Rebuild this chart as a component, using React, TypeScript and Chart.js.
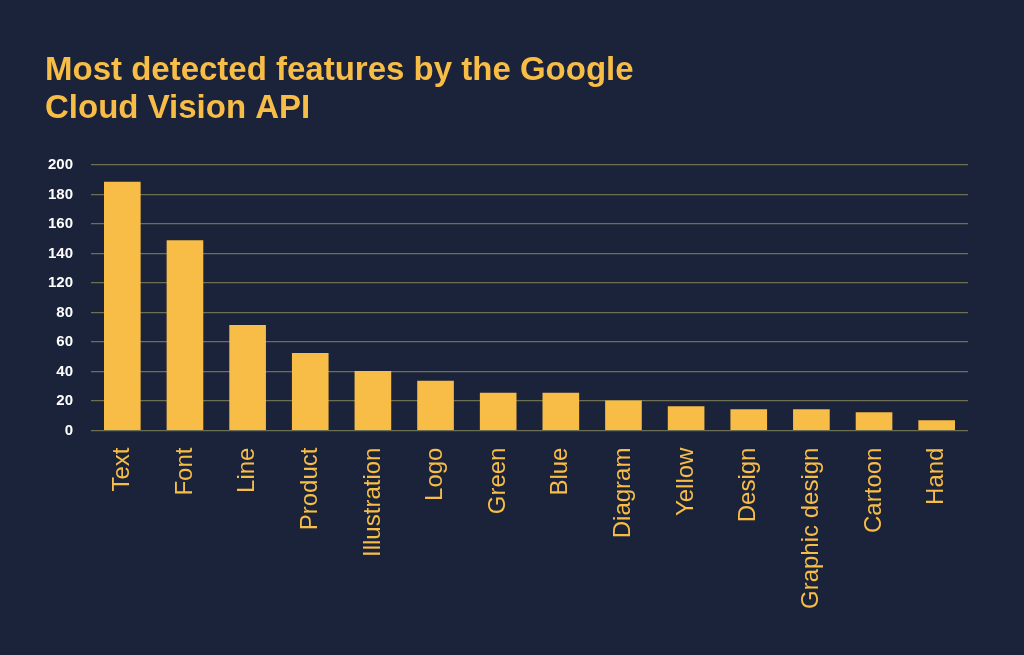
import { useEffect, useRef } from "react";
import { Chart, registerables } from "chart.js";

Chart.register(...registerables);

const features = [
    "Text", "Font", "Line", "Product", "Illustration", "Logo", "Green",
    "Blue", "Diagram", "Yellow", "Design", "Graphic design", "Cartoon", "Hand",
];
// bar heights read against the drawn gridlines (one gridline = 20 units)
const counts = [168.5, 129, 71.5, 52.5, 40.3, 33.8, 25.7, 25.7, 20.3, 16.5, 14.5, 14.5, 12.4, 7];
// printed tick labels, bottom to top (the original skips 100)
const tickLabels = ["0", "20", "40", "60", "80", "120", "140", "160", "180", "200"];
const titleLines = ["Most detected features by the Google", "Cloud Vision API"];

const navy = "#1b233a";
const yellow = "#f8bd46";

function App() {
    const chartRef = useRef<HTMLCanvasElement>(null);
    const chartInstance = useRef<Chart | null>(null);

    useEffect(() => {
        if (chartInstance.current) { chartInstance.current.destroy() }
        const ctx = chartRef.current!.getContext("2d")!;

        chartInstance.current = new Chart(ctx, {
            type: "bar",
            data: {
                labels: features,
                datasets: [{
                    data: counts,
                    backgroundColor: yellow,
                    barPercentage: 0.585,
                    categoryPercentage: 1,
                }],
            },
            options: {
                responsive: false,
                animation: false,
                layout: { padding: { left: 45, right: 56, top: 52, bottom: 37 } },
                plugins: {
                    legend: { display: false },
                    tooltip: { enabled: false },
                    title: {
                        display: true,
                        text: titleLines,
                        align: "start",
                        color: yellow,
                        font: { family: "'Liberation Sans', Arial", size: 33, weight: "bold", lineHeight: 1.15 },
                        padding: { top: 0, bottom: 37 },
                    },
                },
                scales: {
                    x: {
                        grid: { display: false },
                        border: { display: false },
                        ticks: {
                            color: yellow,
                            minRotation: 90,
                            maxRotation: 90,
                            padding: 9,
                            font: { family: "'Liberation Sans', Arial", size: 24 },
                        },
                    },
                    y: {
                        min: 0,
                        max: 180,
                        border: { display: false },
                        grid: { color: "#6d6f52", lineWidth: 1.2, drawTicks: false },
                        afterFit: (scale) => { scale.width = 46 },
                        ticks: {
                            stepSize: 20,
                            color: "#ffffff",
                            padding: 18,
                            font: { family: "'Liberation Sans', Arial", size: 15, weight: "bold" },
                            callback: (value) => tickLabels[Math.round(Number(value) / 20)],
                        },
                    },
                },
            },
        });
        return () => {
            if (chartInstance.current) {
                chartInstance.current.destroy();
                chartInstance.current = null;
            }
        };
    }, []);

    return (
        <div style={{ position: "fixed", inset: 0, background: navy }}>
            <canvas ref={chartRef} width={1024} height={655} style={{ display: "block" }} />
        </div>
    );
}

export default App;
